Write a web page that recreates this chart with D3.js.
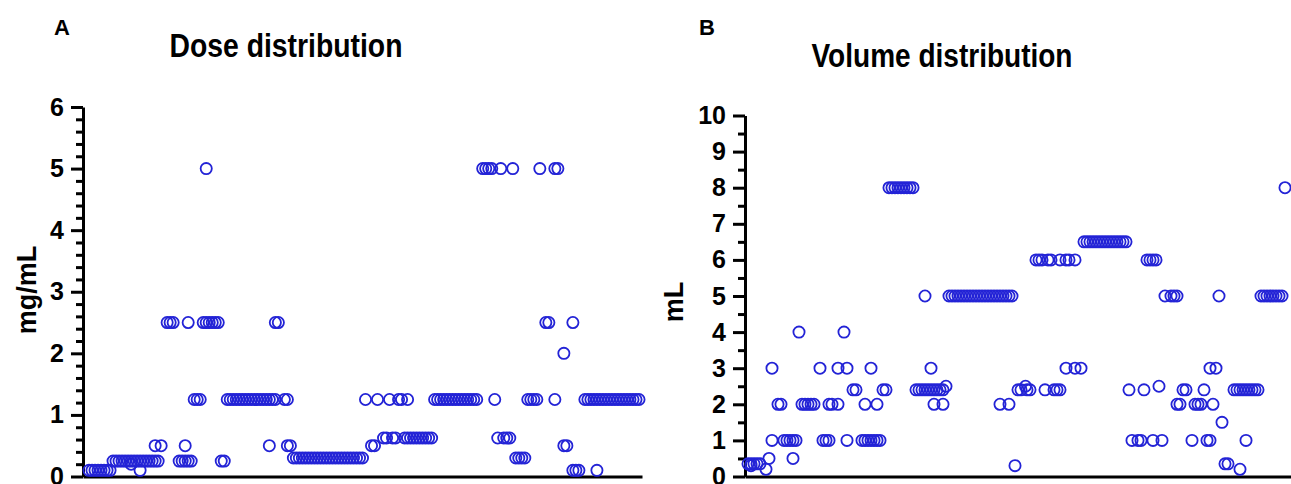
<!DOCTYPE html>
<html>
<head>
<meta charset="utf-8">
<script src="https://cdn.jsdelivr.net/npm/d3@7"></script>
<style>
  body { margin: 0; background: #fff; }
  text { font-family: "Liberation Sans", Arial, sans-serif; font-weight: bold; fill: #000; }
  .axis path, .axis line { stroke: #000; stroke-width: 3; }
  .dot { fill: none; stroke: #2323d6; stroke-width: 1.8; }
</style>
</head>
<body>
<div id="chart"></div>
<script>
// Panel A - dose (mg/mL): one list of subject positions per dose level
const doseLevels = [0.1, 0.2, 0.25, 0.3, 0.5, 0.625, 1.25, 2, 2.5, 5];
const doseSubjects = [
  [2, 3, 4, 5, 6, 7, 8, 9, 19, 163, 164, 165, 171],
  [16],
  [10, 11, 12, 13, 14, 15, 16, 17, 18, 19, 20, 21, 22, 23, 24, 25, 32, 33, 34, 35, 36, 46, 47],
  [70, 71, 72, 73, 74, 75, 76, 77, 78, 79, 80, 81, 82, 83, 84, 85, 86, 87, 88, 89, 90, 91, 92, 93,
   144, 145, 146, 147],
  [24, 26, 34, 62, 68, 69, 96, 97, 160, 161],
  [100, 101, 103, 104, 107, 108, 109, 110, 111, 112, 113, 114, 115, 116, 138, 140, 141, 142],
  [37, 38, 39, 48, 49, 50, 51, 52, 53, 54, 55, 56, 57, 58, 59, 60, 61, 62, 63, 64, 67, 68,
   94, 98, 102, 105, 106, 108, 117, 118, 119, 120, 121, 122, 123, 124, 125, 126, 127, 128, 129, 130, 131,
   137, 148, 149, 150, 151, 157, 167, 168, 169, 170, 171, 172, 173, 174, 175, 176, 177, 178, 179, 180,
   181, 182, 183, 184, 185],
  [160],
  [28, 29, 30, 35, 40, 41, 42, 43, 44, 45, 64, 65, 154, 155, 163],
  [41, 133, 134, 135, 136, 139, 143, 152, 157, 158]
];
const doseTicks = [0, 1, 2, 3, 4, 5, 6];

// Panel B - volume (mL)
const volumeLevels = [0.2, 0.3, 0.35, 0.5, 1, 1.5, 2, 2.4, 2.5, 3, 4, 5, 6, 6.5, 8];
const volumeSubjects = [
  [7, 165],
  [2, 90],
  [1, 2, 3, 4, 5, 160, 161],
  [8, 16],
  [9, 13, 14, 15, 16, 17, 26, 27, 28, 34, 39, 40, 41, 42, 43, 44, 45, 129, 131, 132, 136, 139, 149, 154, 155, 167],
  [159],
  [11, 12, 19, 20, 21, 22, 23, 28, 29, 31, 40, 44, 63, 66, 85, 88, 144, 145, 150, 151, 152, 156],
  [36, 37, 46, 47, 57, 58, 59, 60, 61, 62, 63, 64, 65, 66, 91, 92, 94, 95, 100, 103, 104, 105,
   128, 133, 146, 147, 153, 163, 164, 165, 166, 167, 168, 169, 170, 171],
  [67, 93.5, 138],
  [9, 25, 31, 34, 42, 62, 107, 110, 112, 155, 157],
  [18, 33],
  [60, 68, 69, 70, 71, 72, 73, 74, 75, 76, 77, 78, 79, 80, 81, 82, 83, 84, 85, 86, 87, 88, 89,
   140, 142, 143, 144, 158, 172, 173, 174, 175, 176, 177, 178, 179],
  [97, 98, 99, 101, 102, 105, 107, 108, 110, 134, 135, 136, 137],
  [113, 114, 115, 116, 117, 118, 119, 120, 121, 122, 123, 124, 125, 126, 127],
  [48, 49, 50, 51, 52, 53, 54, 55, 56, 180]
];
const volumeTicks = [0, 1, 2, 3, 4, 5, 6, 7, 8, 9, 10];

const svg = d3.select('#chart').append('svg')
  .attr('width', 1291)
  .attr('height', 484);

function drawPanel(p) {
  const x = d3.scaleLinear().domain(p.xDomain).range(p.xRange);
  const y = d3.scaleLinear().domain([0, p.yMax]).range([476.5, p.yTop]);

  const pts = [];
  p.levels.forEach((v, i) => p.subjects[i].forEach(s => pts.push({ s: s, v: v })));

  // minor ticks
  const minor = d3.range(0, p.yMax + 0.001, p.minorStep)
    .filter(t => Math.abs(t - Math.round(t)) > 0.01);
  svg.append('g')
    .attr('class', 'axis')
    .attr('transform', `translate(${p.xRange[0]},0)`)
    .call(d3.axisLeft(y).tickValues(minor).tickSize(7).tickFormat(''))
    .call(g => g.select('.domain').remove());

  svg.append('g')
    .attr('class', 'axis')
    .attr('transform', `translate(${p.xRange[0]},0)`)
    .call(d3.axisLeft(y).tickValues(p.ticks).tickSize(12).tickSizeOuter(0).tickPadding(7).tickFormat(d3.format('d')))
    .call(g => g.selectAll('text').style('font-size', '25px'));

  svg.append('g')
    .attr('class', 'axis')
    .attr('transform', `translate(0,${y(0)})`)
    .call(d3.axisBottom(x).tickValues([]).tickSizeOuter(0));

  svg.append('g')
    .selectAll('circle')
    .data(pts)
    .enter()
    .append('circle')
    .attr('class', 'dot')
    .attr('cx', d => x(d.s))
    .attr('cy', d => y(d.v))
    .attr('r', 5.6);

  svg.append('text')
    .attr('transform', `translate(${p.labelX},${p.labelY}) rotate(-90)`)
    .attr('text-anchor', 'middle')
    .style('font-size', '27px')
    .text(p.label);

  svg.append('text')
    .attr('x', p.titleX)
    .attr('y', p.titleY)
    .attr('text-anchor', 'middle')
    .attr('textLength', p.titleW)
    .attr('lengthAdjust', 'spacingAndGlyphs')
    .style('font-size', '34px')
    .text(p.title);

  svg.append('text')
    .attr('x', p.letterX)
    .attr('y', 35)
    .style('font-size', '22px')
    .text(p.letter);
}

drawPanel({
  levels: doseLevels, subjects: doseSubjects, ticks: doseTicks,
  yMax: 6, yTop: 107, minorStep: 0.2,
  xDomain: [0, 186], xRange: [83, 642],
  label: 'mg/mL', labelX: 36, labelY: 290,
  title: 'Dose distribution', titleX: 286, titleY: 57, titleW: 233,
  letter: 'A', letterX: 54
});

drawPanel({
  levels: volumeLevels, subjects: volumeSubjects, ticks: volumeTicks,
  yMax: 10, yTop: 115.5, minorStep: 0.5,
  xDomain: [0, 182], xRange: [745, 1291],
  label: 'mL', labelX: 683, labelY: 302,
  title: 'Volume distribution', titleX: 942, titleY: 67, titleW: 261,
  letter: 'B', letterX: 699
});
</script>
</body>
</html>
